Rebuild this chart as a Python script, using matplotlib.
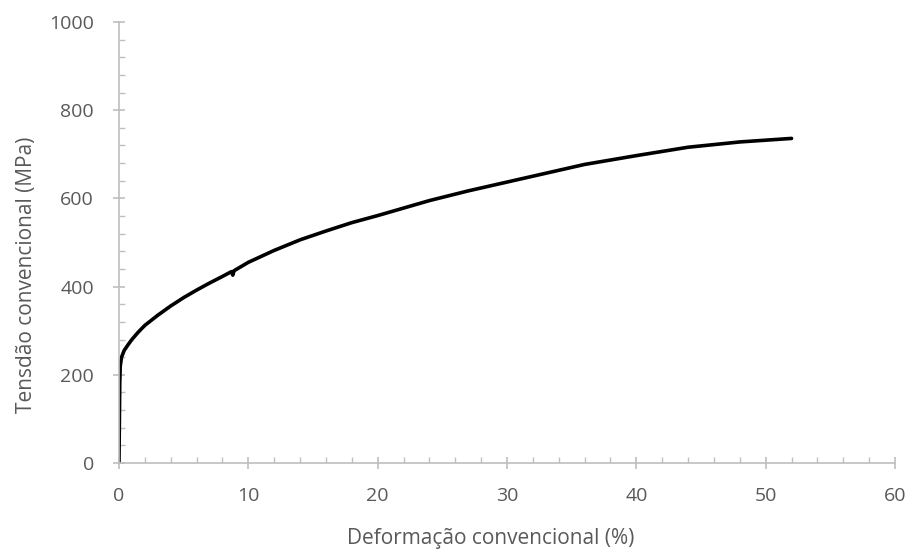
import matplotlib.pyplot as plt
from matplotlib.ticker import MultipleLocator

strain = [0, 0.03, 0.06, 0.1, 0.2, 0.4, 0.7, 1, 1.5, 2, 3, 4, 5, 6, 7, 8, 8.7, 8.8, 8.9,
          10, 12, 14, 16, 18, 20, 22, 24, 27, 30, 33, 36, 40, 44, 48, 52]
stress = [0, 90, 180, 220, 240, 255, 268, 280, 297, 312, 335, 356, 375, 392, 408, 423, 434, 426, 436,
          455, 482, 506, 526, 545, 561, 578, 595, 617, 637, 657, 677, 697, 716, 728, 736]

plt.rcParams['font.family'] = ['Open Sans', 'DejaVu Sans']
grey = '#595959'
axis_col = '#BFBFBF'

fig = plt.figure(figsize=(9.13, 5.57), dpi=100)
ax = fig.add_axes([0.1303, 0.1688, 0.85, 0.7917])

ax.plot(strain, stress, color='black', linewidth=2.6, solid_capstyle='round')

ax.set_xlim(0, 60)
ax.set_ylim(0, 1000)
ax.xaxis.set_major_locator(MultipleLocator(10))
ax.xaxis.set_minor_locator(MultipleLocator(2))
ax.yaxis.set_major_locator(MultipleLocator(200))
ax.yaxis.set_minor_locator(MultipleLocator(40))

for s in ['top', 'right']:
    ax.spines[s].set_visible(False)
for s in ['left', 'bottom']:
    ax.spines[s].set_color(axis_col)
    ax.spines[s].set_linewidth(1.2)

ax.tick_params(which='major', direction='inout', length=8, width=1.2, color=axis_col,
               labelcolor=grey, labelsize=14)
ax.tick_params(axis='x', which='major', pad=13)
ax.tick_params(axis='y', which='major', pad=14)
ax.tick_params(which='minor', direction='in', length=4, width=1.0, color=axis_col)

ax.set_xlabel('Deformação convencional (%)', color=grey, fontsize=15)
ax.set_ylabel('Tensdão convencional (MPa)', color=grey, fontsize=15)
ax.xaxis.set_label_coords(0.479, -0.147)
ax.yaxis.set_label_coords(-0.106, 0.426)

fig.savefig('out.png', dpi=100)
